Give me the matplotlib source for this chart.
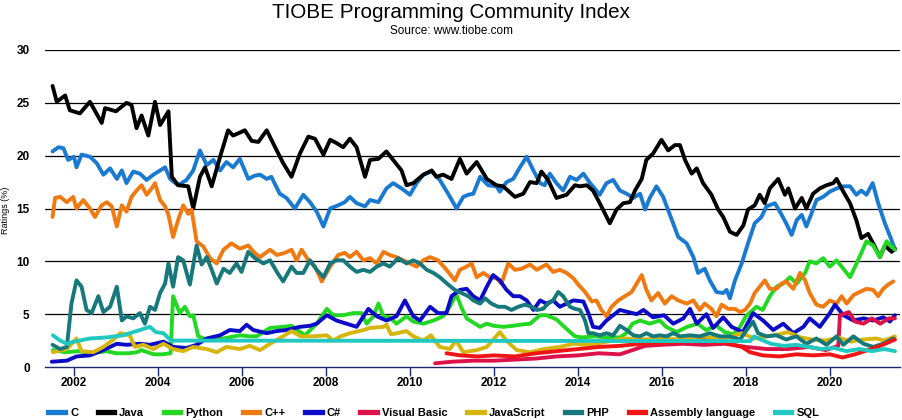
import matplotlib
matplotlib.use("Agg")
import matplotlib.pyplot as plt
from matplotlib.lines import Line2D

plt.rcParams['font.family'] = ['Liberation Sans', 'DejaVu Sans']

# ---------------- data (years as decimal, ratings in %) ----------------
c_t = [2001.49, 2001.63, 2001.75, 2001.86, 2002.0, 2002.06, 2002.18, 2002.38, 2002.54, 2002.7, 2002.86, 2003.02, 2003.14, 2003.25, 2003.41, 2003.57, 2003.73, 2003.89, 2004.05, 2004.17, 2004.29, 2004.48, 2004.68, 2004.84, 2005.0, 2005.16, 2005.32, 2005.48, 2005.63, 2005.79, 2005.95, 2006.15, 2006.3, 2006.43, 2006.59, 2006.7, 2006.9, 2007.06, 2007.26, 2007.46, 2007.62, 2007.78, 2007.94, 2008.1, 2008.29, 2008.45, 2008.57, 2008.73, 2008.93, 2009.05, 2009.25, 2009.44, 2009.6, 2009.8, 2010.0, 2010.16, 2010.32, 2010.52, 2010.71, 2010.91, 2011.11, 2011.27, 2011.39, 2011.51, 2011.67, 2011.86, 2012.06, 2012.14, 2012.3, 2012.46, 2012.62, 2012.78, 2012.94, 2013.1, 2013.21, 2013.33, 2013.49, 2013.65, 2013.81, 2013.97, 2014.13, 2014.29, 2014.44, 2014.52, 2014.68, 2014.84, 2015.0, 2015.16, 2015.32, 2015.48, 2015.6, 2015.71, 2015.87, 2016.03, 2016.19, 2016.39, 2016.59, 2016.75, 2016.86, 2017.02, 2017.14, 2017.3, 2017.46, 2017.54, 2017.62, 2017.74, 2017.9, 2018.05, 2018.21, 2018.37, 2018.49, 2018.69, 2018.81, 2018.96, 2019.09, 2019.21, 2019.33, 2019.44, 2019.56, 2019.68, 2019.84, 2020.0, 2020.16, 2020.32, 2020.48, 2020.63, 2020.75, 2020.87, 2021.02, 2021.15, 2021.31, 2021.47, 2021.55]
c_v = [20.4, 20.8, 20.7, 19.6, 19.9, 18.9, 20.1, 19.9, 19.3, 18.2, 18.8, 17.8, 18.6, 17.4, 18.5, 18.3, 17.7, 18.2, 18.6, 18.9, 17.8, 17.2, 17.7, 18.6, 20.5, 19.1, 19.6, 18.6, 19.4, 18.9, 19.7, 17.8, 18.1, 18.2, 17.8, 18.0, 16.4, 16.0, 15.0, 16.3, 15.6, 14.7, 13.3, 15.0, 15.3, 15.6, 16.1, 15.5, 15.2, 15.8, 15.6, 16.9, 17.4, 16.9, 16.3, 17.4, 18.2, 18.5, 17.7, 16.4, 15.0, 16.1, 16.3, 16.4, 18.0, 17.2, 17.1, 16.6, 17.5, 17.8, 18.9, 19.9, 18.6, 17.4, 17.2, 18.3, 17.4, 16.7, 18.0, 17.7, 18.3, 17.4, 16.7, 16.3, 17.4, 17.7, 16.7, 16.4, 16.0, 16.4, 14.9, 16.0, 17.1, 16.1, 14.4, 12.3, 11.7, 10.4, 8.9, 9.3, 8.2, 7.1, 7.0, 7.3, 6.5, 8.2, 9.8, 11.7, 13.6, 14.2, 15.2, 15.5, 14.7, 13.6, 12.5, 13.9, 14.4, 13.3, 14.5, 15.8, 16.1, 16.6, 16.9, 17.1, 17.1, 16.3, 16.7, 16.3, 17.4, 15.5, 13.6, 12.0, 11.1]

java_t = [2001.49, 2001.59, 2001.79, 2001.9, 2002.14, 2002.38, 2002.66, 2002.74, 2003.0, 2003.25, 2003.37, 2003.49, 2003.61, 2003.77, 2003.93, 2004.05, 2004.25, 2004.33, 2004.48, 2004.72, 2004.84, 2005.0, 2005.12, 2005.28, 2005.48, 2005.67, 2005.79, 2006.07, 2006.23, 2006.39, 2006.59, 2006.79, 2006.98, 2007.18, 2007.38, 2007.58, 2007.74, 2007.94, 2008.1, 2008.25, 2008.41, 2008.57, 2008.73, 2008.93, 2009.05, 2009.25, 2009.44, 2009.6, 2009.8, 2009.92, 2010.08, 2010.32, 2010.52, 2010.63, 2010.79, 2010.99, 2011.19, 2011.35, 2011.59, 2011.83, 2012.06, 2012.22, 2012.5, 2012.7, 2012.86, 2013.02, 2013.13, 2013.29, 2013.49, 2013.73, 2013.93, 2014.05, 2014.21, 2014.36, 2014.52, 2014.76, 2014.92, 2015.08, 2015.24, 2015.36, 2015.52, 2015.63, 2015.79, 2015.99, 2016.15, 2016.31, 2016.43, 2016.55, 2016.71, 2016.83, 2016.98, 2017.18, 2017.34, 2017.46, 2017.62, 2017.78, 2017.94, 2018.05, 2018.21, 2018.33, 2018.45, 2018.57, 2018.77, 2018.93, 2019.01, 2019.17, 2019.33, 2019.44, 2019.6, 2019.76, 2019.92, 2020.08, 2020.16, 2020.32, 2020.48, 2020.63, 2020.75, 2020.91, 2021.07, 2021.19, 2021.31, 2021.47, 2021.55]
java_v = [26.6, 25.1, 25.7, 24.3, 24.0, 25.1, 23.1, 24.5, 24.2, 25.0, 24.8, 22.6, 23.8, 21.9, 25.1, 22.9, 24.2, 18.0, 17.2, 17.1, 15.0, 18.0, 18.9, 17.1, 19.9, 22.4, 21.9, 22.4, 21.4, 21.3, 22.4, 20.8, 19.3, 18.0, 20.2, 21.8, 21.6, 20.1, 21.5, 21.2, 20.8, 21.6, 20.8, 18.0, 19.6, 19.7, 20.4, 19.6, 18.6, 17.2, 17.4, 18.2, 18.6, 18.0, 18.2, 17.8, 19.7, 18.3, 19.4, 17.8, 17.2, 17.1, 16.1, 16.4, 17.5, 17.4, 18.5, 17.7, 16.0, 16.3, 17.2, 17.1, 17.2, 16.7, 15.5, 13.6, 14.9, 15.5, 15.6, 16.7, 17.8, 19.6, 20.2, 21.5, 20.5, 21.0, 21.0, 19.6, 18.3, 18.8, 17.4, 16.3, 14.9, 14.2, 12.8, 12.5, 13.4, 14.9, 15.3, 16.3, 15.5, 16.9, 17.8, 16.3, 16.9, 15.0, 16.0, 15.0, 16.4, 16.9, 17.2, 17.4, 17.8, 16.6, 15.5, 13.9, 12.2, 12.6, 11.4, 10.4, 11.5, 10.9, 11.2]

python_t = [2001.5, 2001.8, 2002.1, 2002.4, 2002.78, 2003.0, 2003.3, 2003.5, 2003.6, 2003.9, 2004.1, 2004.3, 2004.36, 2004.52, 2004.64, 2004.76, 2004.84, 2004.96, 2005.16, 2005.56, 2005.95, 2006.19, 2006.35, 2006.67, 2006.98, 2007.18, 2007.5, 2007.78, 2008.02, 2008.17, 2008.41, 2008.65, 2008.85, 2008.97, 2009.13, 2009.25, 2009.37, 2009.52, 2009.68, 2009.92, 2010.08, 2010.32, 2010.56, 2010.79, 2010.95, 2011.1, 2011.23, 2011.35, 2011.51, 2011.67, 2011.83, 2012.0, 2012.22, 2012.46, 2012.62, 2012.86, 2013.1, 2013.25, 2013.49, 2013.73, 2013.93, 2014.1, 2014.4, 2014.7, 2015.0, 2015.15, 2015.3, 2015.48, 2015.71, 2015.95, 2016.1, 2016.35, 2016.6, 2016.85, 2017.05, 2017.3, 2017.5, 2017.7, 2017.86, 2018.0, 2018.25, 2018.4, 2018.57, 2018.73, 2018.89, 2019.05, 2019.21, 2019.41, 2019.52, 2019.68, 2019.84, 2020.0, 2020.16, 2020.32, 2020.48, 2020.6, 2020.75, 2020.87, 2021.03, 2021.19, 2021.35, 2021.55]
python_v = [1.6, 1.4, 1.5, 1.3, 1.5, 1.3, 1.3, 1.4, 1.6, 1.2, 1.2, 1.3, 6.7, 5.1, 5.7, 4.8, 4.9, 2.9, 2.6, 2.7, 3.0, 2.9, 2.9, 3.7, 3.8, 3.9, 3.0, 4.1, 5.5, 4.9, 4.9, 5.1, 5.1, 4.1, 4.8, 6.0, 4.8, 4.7, 4.1, 4.8, 4.3, 4.1, 4.4, 4.8, 5.7, 6.9, 5.6, 4.6, 4.2, 3.8, 4.1, 3.9, 3.8, 3.9, 4.0, 4.1, 4.9, 4.9, 4.5, 3.6, 2.9, 2.8, 2.9, 2.8, 2.8, 3.2, 4.1, 4.4, 4.1, 4.4, 3.8, 3.3, 3.8, 4.1, 3.5, 3.9, 3.3, 3.1, 3.8, 4.8, 5.7, 5.4, 6.7, 7.6, 7.9, 8.5, 7.9, 8.9, 10.0, 9.8, 10.3, 9.5, 10.1, 9.3, 8.5, 9.5, 10.8, 11.9, 11.5, 10.4, 11.9, 11.1]

cpp_t = [2001.49, 2001.55, 2001.67, 2001.83, 2001.98, 2002.06, 2002.22, 2002.38, 2002.5, 2002.66, 2002.78, 2002.9, 2003.02, 2003.14, 2003.25, 2003.37, 2003.49, 2003.61, 2003.73, 2003.85, 2003.93, 2004.05, 2004.17, 2004.25, 2004.36, 2004.48, 2004.6, 2004.72, 2004.8, 2004.92, 2005.08, 2005.24, 2005.4, 2005.56, 2005.75, 2005.95, 2006.15, 2006.3, 2006.43, 2006.67, 2006.83, 2007.02, 2007.18, 2007.3, 2007.42, 2007.58, 2007.74, 2007.9, 2008.1, 2008.29, 2008.45, 2008.57, 2008.73, 2008.89, 2009.05, 2009.21, 2009.37, 2009.52, 2009.68, 2009.84, 2010.0, 2010.16, 2010.32, 2010.48, 2010.67, 2010.87, 2011.07, 2011.19, 2011.35, 2011.47, 2011.59, 2011.75, 2011.9, 2012.06, 2012.18, 2012.34, 2012.5, 2012.66, 2012.86, 2013.02, 2013.25, 2013.41, 2013.57, 2013.73, 2013.89, 2014.01, 2014.17, 2014.33, 2014.44, 2014.56, 2014.68, 2014.8, 2014.96, 2015.12, 2015.28, 2015.4, 2015.52, 2015.63, 2015.75, 2015.91, 2016.07, 2016.23, 2016.39, 2016.59, 2016.75, 2016.9, 2017.02, 2017.18, 2017.3, 2017.42, 2017.58, 2017.74, 2017.86, 2017.98, 2018.1, 2018.21, 2018.33, 2018.45, 2018.57, 2018.73, 2018.85, 2018.96, 2019.13, 2019.29, 2019.41, 2019.52, 2019.68, 2019.84, 2020.0, 2020.16, 2020.28, 2020.4, 2020.56, 2020.71, 2020.87, 2021.03, 2021.15, 2021.27, 2021.39, 2021.51]
cpp_v = [14.2, 16.0, 16.1, 15.6, 16.1, 15.0, 15.8, 15.0, 14.2, 15.3, 15.6, 15.2, 13.3, 15.3, 14.7, 16.1, 16.7, 17.2, 16.3, 16.9, 17.4, 15.8, 15.2, 14.4, 12.3, 13.9, 15.3, 14.5, 14.9, 11.9, 11.4, 10.3, 9.8, 11.1, 11.7, 11.2, 11.5, 10.8, 10.4, 11.1, 10.6, 10.8, 11.1, 10.1, 11.1, 10.1, 9.5, 8.1, 9.5, 10.6, 10.8, 10.4, 10.9, 10.1, 10.3, 9.8, 10.9, 10.6, 10.4, 10.1, 9.8, 9.5, 10.1, 10.4, 10.1, 9.2, 8.2, 9.2, 9.5, 9.8, 8.5, 8.9, 8.5, 8.4, 7.9, 9.8, 9.2, 9.3, 9.7, 9.2, 9.7, 9.0, 9.2, 8.9, 8.4, 7.8, 7.1, 6.2, 6.3, 5.4, 4.8, 5.7, 6.3, 6.7, 7.1, 7.9, 8.7, 7.3, 6.3, 7.0, 6.0, 6.7, 6.3, 6.0, 6.3, 5.4, 6.0, 5.5, 4.8, 5.9, 5.5, 5.5, 5.2, 5.4, 6.0, 7.0, 7.6, 8.2, 7.4, 7.4, 7.9, 8.1, 7.4, 8.9, 8.2, 7.0, 5.9, 5.7, 6.3, 6.0, 6.7, 6.0, 6.8, 7.1, 7.4, 7.3, 6.7, 7.4, 7.8, 8.1]

csharp_t = [2001.47, 2001.83, 2002.06, 2002.38, 2002.7, 2003.02, 2003.25, 2003.57, 2003.81, 2004.13, 2004.36, 2004.68, 2004.92, 2005.16, 2005.48, 2005.71, 2005.95, 2006.11, 2006.27, 2006.59, 2006.83, 2007.06, 2007.38, 2007.62, 2007.78, 2008.02, 2008.25, 2008.49, 2008.73, 2009.01, 2009.21, 2009.44, 2009.68, 2009.88, 2010.08, 2010.24, 2010.48, 2010.67, 2010.87, 2010.99, 2011.19, 2011.35, 2011.51, 2011.67, 2011.83, 2011.98, 2012.14, 2012.3, 2012.46, 2012.62, 2012.78, 2012.94, 2013.1, 2013.25, 2013.41, 2013.57, 2013.73, 2013.89, 2014.13, 2014.25, 2014.36, 2014.52, 2014.68, 2014.84, 2015.0, 2015.2, 2015.4, 2015.56, 2015.79, 2016.05, 2016.27, 2016.51, 2016.67, 2016.83, 2017.06, 2017.22, 2017.46, 2017.66, 2017.93, 2018.17, 2018.41, 2018.65, 2018.89, 2019.13, 2019.37, 2019.52, 2019.76, 2020.0, 2020.12, 2020.32, 2020.56, 2020.8, 2021.03, 2021.27, 2021.43, 2021.55]
csharp_v = [0.5, 0.6, 1.0, 1.1, 1.6, 2.2, 2.1, 2.2, 2.1, 2.4, 1.9, 1.8, 2.1, 2.7, 3.0, 3.5, 3.4, 4.0, 3.5, 3.2, 3.4, 3.5, 3.8, 3.9, 4.1, 4.9, 4.4, 4.1, 3.8, 5.5, 4.8, 4.4, 4.8, 6.3, 4.8, 4.4, 5.7, 5.1, 5.1, 6.7, 7.3, 7.4, 6.7, 6.3, 7.6, 8.7, 8.2, 7.3, 6.7, 6.7, 6.3, 5.4, 6.3, 6.0, 6.3, 5.7, 6.0, 6.3, 6.2, 5.1, 3.8, 3.7, 4.4, 4.9, 5.4, 5.2, 5.0, 5.4, 4.7, 4.9, 4.1, 4.6, 5.5, 4.1, 5.0, 3.7, 4.7, 3.8, 3.3, 5.1, 4.4, 3.5, 4.1, 3.2, 3.8, 4.6, 3.8, 5.1, 5.9, 4.9, 4.4, 4.6, 4.4, 4.7, 4.3, 4.9]

vb_t = [2010.6, 2011.0, 2011.5, 2012.0, 2012.5, 2013.0, 2013.5, 2014.0, 2014.5, 2015.0, 2015.3, 2015.6, 2016.0, 2016.5, 2017.0, 2017.5, 2018.0, 2018.5, 2019.0, 2019.5, 2019.9, 2020.2, 2020.24, 2020.45, 2020.6, 2020.8, 2021.0, 2021.2, 2021.4, 2021.55]
vb_v = [0.35, 0.5, 0.6, 0.6, 0.7, 0.8, 1.0, 1.1, 1.3, 1.2, 1.6, 2.0, 2.1, 2.2, 2.1, 2.2, 1.9, 1.7, 1.7, 1.9, 1.6, 2.0, 4.9, 5.2, 4.3, 4.1, 4.6, 4.1, 4.6, 4.6]

js_t = [2001.5, 2001.83, 2002.06, 2002.18, 2002.46, 2002.7, 2002.94, 2003.1, 2003.33, 2003.45, 2003.65, 2003.89, 2004.13, 2004.36, 2004.6, 2004.84, 2005.16, 2005.4, 2005.63, 2005.95, 2006.19, 2006.43, 2006.67, 2006.98, 2007.18, 2007.4, 2007.7, 2008.02, 2008.17, 2008.35, 2008.57, 2008.9, 2009.05, 2009.37, 2009.44, 2009.55, 2009.7, 2009.92, 2010.08, 2010.32, 2010.5, 2010.71, 2010.95, 2011.1, 2011.27, 2011.59, 2011.83, 2012.14, 2012.3, 2012.54, 2012.86, 2013.2, 2013.57, 2013.9, 2014.29, 2014.7, 2015.1, 2015.5, 2016.0, 2016.5, 2017.0, 2017.5, 2017.9, 2018.2, 2018.5, 2018.8, 2019.0, 2019.3, 2019.6, 2019.9, 2020.2, 2020.5, 2020.8, 2021.1, 2021.3, 2021.55]
js_v = [1.4, 1.7, 2.7, 1.5, 1.4, 1.9, 2.6, 3.2, 3.0, 1.9, 2.1, 1.7, 2.2, 1.7, 1.5, 1.9, 1.7, 1.4, 1.9, 1.7, 2.0, 1.6, 2.2, 2.9, 3.4, 2.9, 2.9, 3.0, 2.5, 2.9, 3.2, 3.5, 3.7, 3.8, 4.0, 3.1, 3.2, 3.4, 2.9, 2.5, 3.0, 1.9, 1.7, 2.5, 1.4, 1.6, 1.9, 3.3, 2.5, 1.6, 1.4, 1.7, 1.9, 2.2, 2.1, 2.4, 2.7, 2.6, 2.7, 2.6, 2.8, 2.7, 3.2, 2.7, 2.9, 3.1, 3.3, 2.8, 2.6, 2.5, 2.8, 2.4, 2.6, 2.7, 2.5, 2.9]

php_t = [2001.49, 2001.67, 2001.83, 2001.94, 2002.06, 2002.18, 2002.3, 2002.42, 2002.58, 2002.7, 2002.86, 2003.02, 2003.14, 2003.25, 2003.41, 2003.57, 2003.69, 2003.81, 2003.93, 2004.05, 2004.17, 2004.25, 2004.36, 2004.48, 2004.6, 2004.76, 2004.92, 2005.04, 2005.16, 2005.28, 2005.4, 2005.56, 2005.71, 2005.87, 2005.99, 2006.15, 2006.31, 2006.51, 2006.67, 2006.83, 2006.98, 2007.18, 2007.3, 2007.46, 2007.62, 2007.78, 2007.94, 2008.1, 2008.25, 2008.41, 2008.57, 2008.73, 2008.89, 2009.05, 2009.21, 2009.37, 2009.52, 2009.72, 2009.92, 2010.08, 2010.24, 2010.4, 2010.56, 2010.71, 2010.91, 2011.07, 2011.23, 2011.39, 2011.51, 2011.67, 2011.79, 2011.94, 2012.1, 2012.26, 2012.42, 2012.58, 2012.74, 2012.9, 2013.02, 2013.17, 2013.29, 2013.41, 2013.53, 2013.65, 2013.81, 2013.93, 2014.05, 2014.17, 2014.25, 2014.36, 2014.52, 2014.68, 2014.84, 2015.0, 2015.16, 2015.32, 2015.48, 2015.63, 2015.79, 2015.95, 2016.11, 2016.27, 2016.43, 2016.67, 2016.9, 2017.14, 2017.38, 2017.62, 2017.86, 2018.02, 2018.17, 2018.29, 2018.49, 2018.73, 2018.96, 2019.2, 2019.44, 2019.68, 2019.92, 2020.16, 2020.32, 2020.56, 2020.8, 2021.03, 2021.27, 2021.51]
php_v = [2.1, 1.7, 1.9, 6.0, 8.2, 7.6, 5.4, 5.1, 6.7, 5.2, 5.7, 7.6, 4.4, 4.8, 4.6, 5.1, 4.1, 5.7, 5.4, 7.0, 7.9, 9.8, 7.6, 10.4, 10.1, 7.8, 11.5, 9.7, 10.4, 9.2, 7.9, 9.3, 8.9, 9.8, 9.0, 10.9, 10.3, 9.8, 10.1, 9.0, 8.1, 9.5, 8.9, 8.9, 10.1, 9.2, 8.5, 9.8, 10.1, 10.1, 9.5, 9.0, 9.2, 9.0, 9.5, 9.8, 9.5, 10.3, 9.8, 10.1, 9.8, 9.2, 8.9, 8.5, 7.8, 7.3, 7.0, 6.7, 6.3, 6.0, 6.5, 6.0, 5.7, 5.7, 5.4, 5.7, 5.9, 5.7, 5.4, 5.5, 6.0, 6.3, 7.1, 6.7, 5.7, 5.5, 5.4, 4.4, 3.2, 3.2, 3.0, 3.2, 3.0, 3.9, 3.5, 3.0, 2.9, 3.2, 2.9, 3.0, 2.9, 3.2, 2.9, 3.0, 2.9, 3.2, 2.9, 2.9, 2.6, 3.5, 4.3, 3.2, 2.9, 3.0, 2.6, 2.9, 2.2, 2.7, 2.1, 2.9, 2.1, 2.9, 2.2, 1.9, 2.2, 2.7]

asm_t = [2010.87, 2011.2, 2011.6, 2012.0, 2012.5, 2013.0, 2013.5, 2014.0, 2014.5, 2015.0, 2015.5, 2016.0, 2016.5, 2017.0, 2017.5, 2017.9, 2018.1, 2018.4, 2018.8, 2019.2, 2019.6, 2020.0, 2020.3, 2020.6, 2020.9, 2021.2, 2021.55]
asm_v = [1.3, 1.1, 1.0, 1.1, 1.0, 1.3, 1.5, 1.7, 1.9, 2.0, 2.2, 2.3, 2.4, 2.5, 2.3, 1.9, 1.4, 1.1, 1.0, 1.2, 1.1, 1.2, 0.9, 1.2, 1.6, 2.0, 2.6]

sql_t = [2001.5, 2001.67, 2001.83, 2002.0, 2002.38, 2002.78, 2003.17, 2003.57, 2003.81, 2003.95, 2004.13, 2004.31, 2018.1, 2018.2, 2018.35, 2018.6, 2018.9, 2019.2, 2019.5, 2019.8, 2020.1, 2020.4, 2020.7, 2021.0, 2021.3, 2021.55]
sql_v = [3.0, 2.5, 2.2, 2.4, 2.7, 2.8, 3.0, 3.5, 3.8, 3.3, 3.2, 2.5, 2.45, 2.9, 2.6, 2.2, 2.0, 2.1, 1.9, 1.7, 1.8, 1.5, 1.7, 1.5, 1.7, 1.5]

names = ["C", "Java", "Python", "C++", "C#", "Visual Basic", "JavaScript", "PHP", "Assembly language", "SQL"]
colors = ["#1a7ad2", "#000000", "#22d822", "#f07a10", "#0c0cc8", "#dc1248", "#d6b50c", "#16787a", "#f01414", "#20c8c2"]
series = [(c_t, c_v), (java_t, java_v), (python_t, python_v), (cpp_t, cpp_v),
          (csharp_t, csharp_v), (vb_t, vb_v), (js_t, js_v), (php_t, php_v),
          (asm_t, asm_v), (sql_t, sql_v)]
year_ticks = [2002, 2004, 2006, 2008, 2010, 2012, 2014, 2016, 2018, 2020]
y_ticks = [0, 5, 10, 15, 20, 25, 30]

# ---------------- figure ----------------
fig = plt.figure(figsize=(9.02, 4.2), dpi=100)
ax = fig.add_axes([45 / 902, 53 / 420, 855 / 902, 317 / 420])

for y in y_ticks[1:]:
    ax.axhline(y, color="black", lw=0.9, zorder=1)

for (t, v), col in zip(series, colors):
    ax.plot(t, v, color=col, lw=2.8, solid_joinstyle="round", solid_capstyle="round", zorder=3)

ax.set_xlim(2001.31, 2021.67)
ax.set_ylim(0, 30)
ax.set_xticks(year_ticks)
ax.set_xticklabels([str(y) for y in year_ticks], fontsize=8.5, fontweight="bold")
ax.set_yticks(y_ticks)
ax.set_yticklabels([str(y) for y in y_ticks], fontsize=8.5, fontweight="bold")
ax.tick_params(axis="x", direction="out", length=6.5, width=1, color="#1c2a66", pad=1.0)
ax.tick_params(axis="y", length=0, pad=11)
for s in ["top", "right", "left"]:
    ax.spines[s].set_visible(False)
ax.spines["bottom"].set_color("#1c2a66")
ax.spines["bottom"].set_linewidth(1.0)
ax.spines["bottom"].set_zorder(4)

fig.text(6 / 902, 1 - 210 / 420, "Ratings (%)", rotation=90, ha="center", va="center", fontsize=6.5)
fig.text(0.5, 1 - 12 / 420, "TIOBE Programming Community Index", ha="center", va="center", fontsize=14.9)
fig.text(0.5, 1 - 31 / 420, "Source: www.tiobe.com", ha="center", va="center", fontsize=8.5)

handles = [Line2D([0], [0], color=c, lw=3.8) for c in colors]
fig.legend(handles, names, loc="center", bbox_to_anchor=(0.481, 7 / 420), ncol=10, frameon=False,
           handlelength=1.5, handletextpad=0.45, columnspacing=1.75,
           prop={"weight": "bold", "size": 8.0})

fig.savefig("out.png", dpi=100)
